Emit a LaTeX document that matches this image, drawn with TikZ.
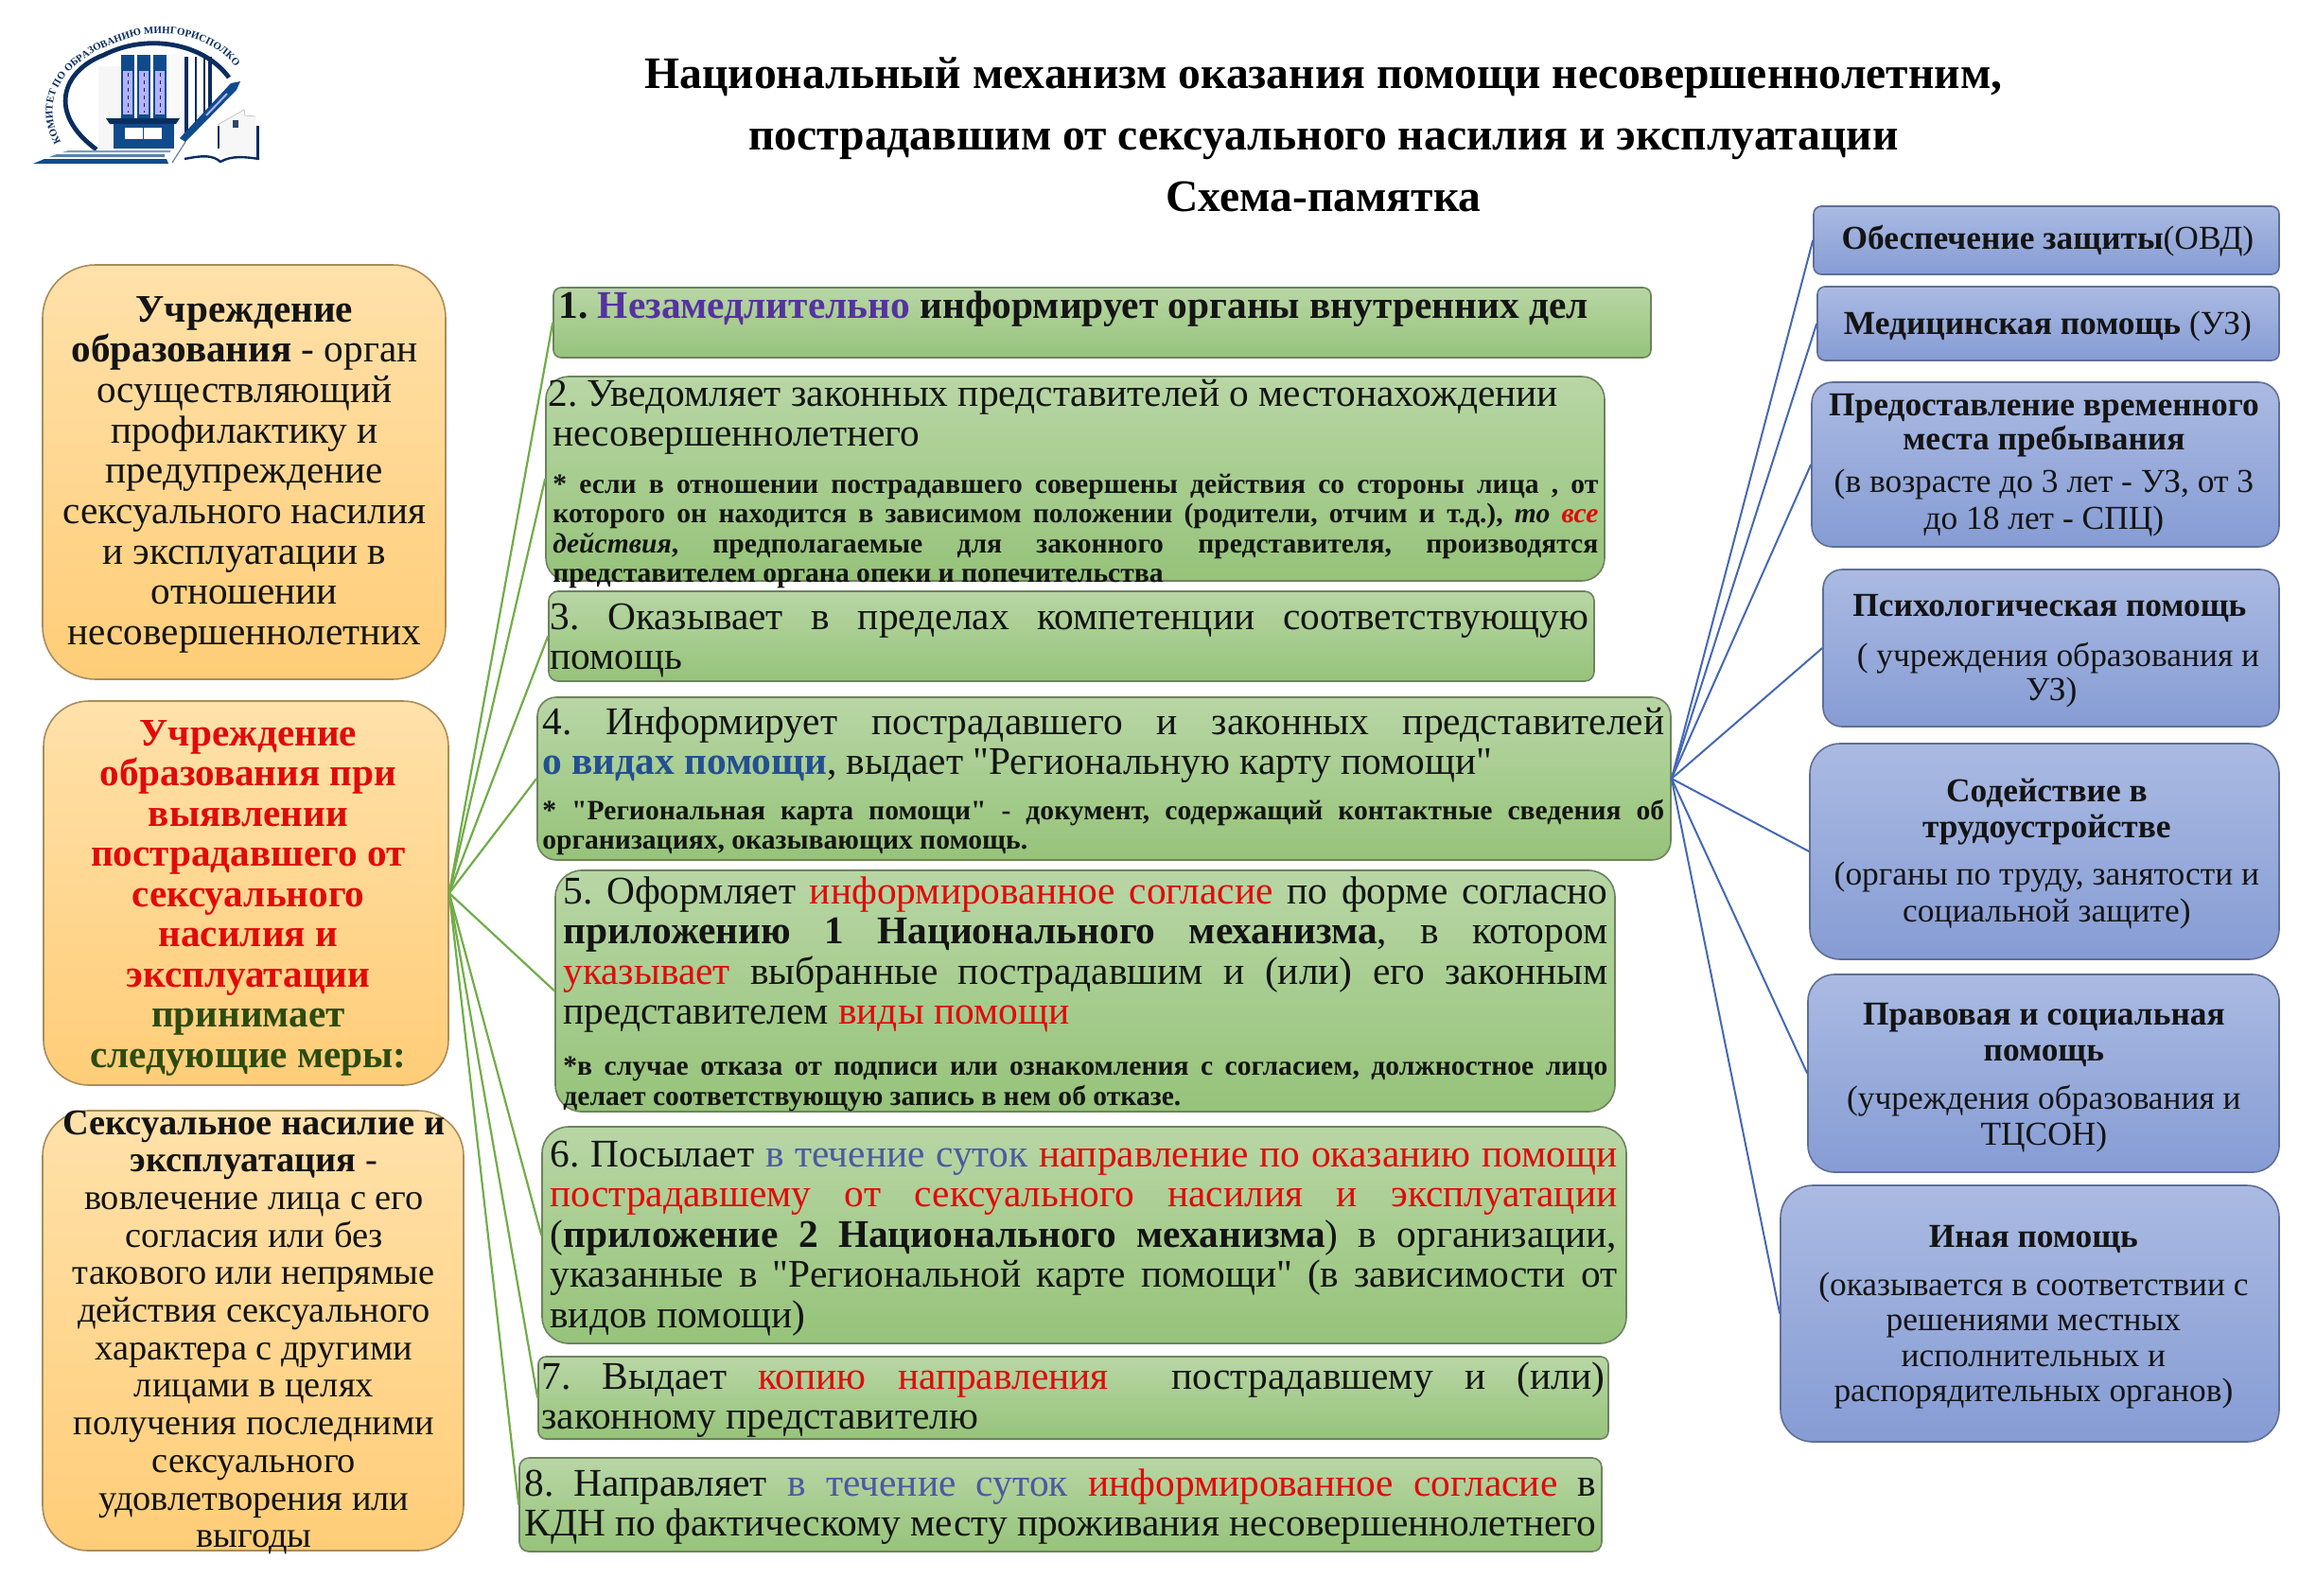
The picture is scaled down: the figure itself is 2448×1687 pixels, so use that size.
\documentclass[tikz,border=0pt]{standalone}
\usepackage{fontspec}
\setmainfont{Liberation Serif}
\newfontfamily\LSq{Liberation Serif}
\usetikzlibrary{decorations.text}
\AtBeginDocument{\frenchspacing}
\definecolor{rd}{RGB}{225,10,10}
\definecolor{pu}{RGB}{85,50,160}
\definecolor{bl}{RGB}{35,80,145}
\definecolor{tch}{RGB}{75,90,160}
\definecolor{dg}{RGB}{45,75,15}
\definecolor{lineg}{RGB}{112,173,71}
\definecolor{lineb}{RGB}{68,104,180}
\definecolor{logob}{RGB}{15,75,140}
\definecolor{logod}{RGB}{10,45,95}
\definecolor{gtop}{RGB}{184,214,165}
\definecolor{gbot}{RGB}{150,195,122}
\definecolor{otop}{RGB}{255,225,170}
\definecolor{obot}{RGB}{255,205,120}
\definecolor{utop}{RGB}{170,186,226}
\definecolor{ubot}{RGB}{134,156,212}
\definecolor{gedge}{RGB}{110,130,95}
\definecolor{oedge}{RGB}{170,140,90}
\definecolor{uedge}{RGB}{95,110,150}
\tikzset{
  gbox/.style={draw=gedge,line width=0.8pt,top color=gtop,bottom color=gbot,inner sep=0pt},
  obox/.style={draw=oedge,line width=0.8pt,top color=otop,bottom color=obot,inner sep=0pt},
  ubox/.style={draw=uedge,line width=0.8pt,top color=utop,bottom color=ubot,inner sep=0pt},
  txt/.style={anchor=base west,inner sep=0pt,text=black!92},
  gline/.style={draw=lineg,line width=1.1pt},
  uline/.style={draw=lineb,line width=1pt},
}
% box: name, style+radius, x1,y1,x2,y2 (reference pixels)
\newcommand{\bx}[6]{\node[#2,minimum width={(#5-#3)*0.5pt},minimum height={(#6-#4)*0.5pt}] (#1) at ({(#3+#5)/2},{(#4+#6)/2}) {};}
% text block: name, x, first baseline y, width in pt, content
\newcommand{\tx}[5]{\node[txt] (#1) at (#2,#3) {\vtop{\hsize=#4pt\relax #5}};}
\newcommand{\JL}[1]{\hbox to \hsize{#1}}
\newcommand{\JLi}[1]{\hbox to \hsize{\hskip 2.5pt #1}}
\newcommand{\PL}[1]{\hbox{#1}}
\newcommand{\CL}[1]{\hbox to \hsize{\hss #1\hss}}
\newcommand{\Rd}[1]{\textcolor{rd}{#1}}
\newcommand{\Tc}[1]{\textcolor{tch}{#1}}
\newcommand{\qq}{{\LSq "}}
\newcommand{\fmain}{\fontsize{20.7}{21.3}\selectfont}
\newcommand{\fnote}{\fontsize{14.8}{15.6}\selectfont\bfseries}
\newcommand{\ftitle}{\fontsize{23.8}{25}\selectfont\bfseries}
\newcommand{\fr}{\fontsize{17.7}{18}\selectfont}
\begin{document}
\begin{tikzpicture}[x=0.5pt,y=-0.5pt]
\useasboundingbox (0,0) rectangle (2448,1687);
\fill[white] (0,0) rectangle (2448,1687);

% ---------- logo
\fill[gray!7] (104,70) rectangle (128,158);
\fill[gray!5] (175,57) -- (193,57) -- (193,143) -- (175,143) -- cycle;
\draw[logod,line width=2.4pt] (102,158) .. controls (50,120) and (65,75) .. (110,58) .. controls (155,35) and (215,45) .. (242,82);
\foreach \xa in {128,145,162}{
  \fill[logob] (\xa,58) rectangle ++(14,68);
  \fill[white!70!blue] ({\xa+2},75) rectangle ++(10,46);
  \draw[logod,line width=0.3pt,dash pattern=on 2pt off 2pt] ({\xa+7},77) -- ++(0,42);
}
\fill[logod] (112,125) -- (190,125) -- (186,131) -- (116,131) -- cycle;
\fill[logob] (120,131) rectangle (184,157);
\fill[white] (132,135) rectangle (171,147);
\draw[logob,line width=0.5pt] (151,135) -- (151,147);
\foreach \xb/\wb in {197/2.2,207/1.2,216/1,222/2}{\draw[logod,line width=\wb pt] (\xb,60) -- (\xb,{150-(\xb-197)*1.4});}
\fill[logob] (35,173) -- (178,173) -- (176,168) -- (47,168) -- cycle;
\fill[logob!70!white] (52,166) -- (174,166) -- (174,163) -- (60,163) -- cycle;
\fill[logob!55!white] (66,161) -- (180,161) -- (180,159) -- (72,159) -- cycle;
\fill[white] (184,172) -- (180,170) -- (243,88) -- (252,92) -- cycle;
\fill[logob] (196,150) -- (190,146) -- (244,88) -- (254,86) -- (250,95) -- cycle;
\draw[logod!60!white,line width=0.6pt] (182,172) -- (196,150);
\draw[white!70!blue,line width=1pt] (218,122) -- (240,99);
\fill[gray!6] (230,132) -- (258,116) -- (259,122) -- (270,123) -- (272,165) -- (232,165) -- cycle;
\draw[gray!55,line width=0.3pt] (230,132) -- (258,116) -- (259,122) -- (270,123);
\draw[logod,line width=0.7pt] (231,133) -- (231,157);
\fill[logod!70!gray] (246,127) rectangle (252,135);
\fill[logod] (271,133) rectangle (274,169);
\draw[logod,line width=1.2pt] (195,168) .. controls (215,164) and (225,164) .. (233,171) .. controls (245,164) and (260,166) .. (274,168);
\path[decorate,decoration={text along path,raise=0.5pt,text align=center,
  text={|\fontsize{5.4}{5.4}\selectfont\bfseries\color{logod}|КОМИТЕТ ПО ОБРАЗОВАНИЮ МИНГОРИСПОЛКОМА}}]
  (60,138) .. controls (42,85) and (95,50) .. (150,38) .. controls (190,32) and (230,45) .. (251,75);

% ---------- title
\node[inner sep=0pt,anchor=base] (title1) at (1399,93.5) {\ftitle Национальный механизм оказания помощи несовершеннолетним,};
\node[inner sep=0pt,anchor=base] (title2) at (1399,158.5) {\ftitle пострадавшим от сексуального насилия и эксплуатации};
\node[inner sep=0pt,anchor=base] (title3) at (1399,223.5) {\ftitle Схема-памятка};

% ---------- boxes
\bx{L1}{obox,rounded corners=28pt}{45}{280}{471}{718}
\bx{L2}{obox,rounded corners=24pt}{46}{741}{474}{1147}
\bx{L3}{obox,rounded corners=24pt}{45}{1174}{490}{1639}
\bx{B1}{gbox,rounded corners=4pt}{585}{304}{1745}{378}
\bx{B2}{gbox,rounded corners=12pt}{577}{398}{1696}{614}
\bx{B3}{gbox,rounded corners=5pt}{580}{625}{1685}{720}
\bx{B4}{gbox,rounded corners=10pt}{568}{737}{1766}{909}
\bx{B5}{gbox,rounded corners=14pt}{587}{920}{1707}{1175}
\bx{B6}{gbox,rounded corners=14pt}{573}{1191}{1719}{1420}
\bx{B7}{gbox,rounded corners=4pt}{569}{1434}{1700}{1521}
\bx{B8}{gbox,rounded corners=5pt}{549}{1541}{1693}{1640}
\bx{R1}{ubox,rounded corners=4pt}{1917}{218}{2409}{290}
\bx{R2}{ubox,rounded corners=4pt}{1921}{303}{2409}{381}
\bx{R3}{ubox,rounded corners=11pt}{1915}{404}{2409}{578}
\bx{R4}{ubox,rounded corners=10pt}{1927}{602}{2409}{768}
\bx{R5}{ubox,rounded corners=16pt}{1913}{786}{2409}{1014}
\bx{R6}{ubox,rounded corners=14pt}{1911}{1030}{2409}{1239}
\bx{R7}{ubox,rounded corners=17pt}{1882}{1253}{2409}{1524}

% ---------- connectors
\foreach \b in {B1,B2,B3,B4,B5,B6,B7,B8}{\draw[gline] (L2.east) -- (\b.west);}
\foreach \r in {R1,R2,R3,R4,R5,R6,R7}{\draw[uline] (B4.east) -- (\r.west);}

% ---------- left texts
\tx{tL1}{45}{340}{213}{\fontsize{20.6}{21.35}\selectfont
 \CL{\bfseries Учреждение}
 \CL{\textbf{образования} - орган}
 \CL{осуществляющий}
 \CL{профилактику и}
 \CL{предупреждение}
 \CL{сексуального насилия}
 \CL{и эксплуатации в}
 \CL{отношении}
 \CL{несовершеннолетних}}
\tx{tL2}{46}{788}{216}{\fontsize{20.6}{21.25}\selectfont\bfseries
 \CL{\Rd{Учреждение}}
 \CL{\Rd{образования при}}
 \CL{\Rd{выявлении}}
 \CL{\Rd{пострадавшего от}}
 \CL{\Rd{сексуального}}
 \CL{\Rd{насилия и}}
 \CL{\Rd{эксплуатации}}
 \CL{\textcolor{dg}{принимает}}
 \CL{\textcolor{dg}{следующие меры:}}}
\tx{tL3}{45}{1199}{223}{\fontsize{19.2}{19.85}\selectfont
 \CL{\bfseries Сексуальное насилие и}
 \CL{\textbf{эксплуатация} -}
 \CL{вовлечение лица с его}
 \CL{согласия или без}
 \CL{такового или непрямые}
 \CL{действия сексуального}
 \CL{характера с другими}
 \CL{лицами в целях}
 \CL{получения последними}
 \CL{сексуального}
 \CL{удовлетворения или}
 \CL{выгоды}}

% ---------- middle texts
\tx{t1}{590}{336}{570}{\fmain\bfseries
 \PL{1. \textcolor{pu}{Незамедлительно} информирует органы внутренних дел}}
\tx{t2}{579}{429}{555}{\fmain
 \PL{2. Уведомляет законных представителей о местонахождении}
 \PL{\hskip 2.5pt несовершеннолетнего}
 \vskip 9.4pt
 \fnote
 \JLi{* если в отношении пострадавшего совершены действия со стороны лица , от}
 \JLi{которого он находится в зависимом положении (родители, отчим и т.д.), \textit{то \Rd{все}}}
 \JLi{\textit{действия}, предполагаемые для законного представителя, производятся}
 \PL{\hskip 2.5pt представителем органа опеки и попечительства}}
\tx{t3}{581}{665}{549}{\fmain
 \JL{3. Оказывает в пределах компетенции соответствующую}
 \PL{помощь}}
\tx{t4}{573}{776}{593}{\fmain
 \JL{4. Информирует пострадавшего и законных представителей}
 \PL{\textbf{\textcolor{bl}{о видах помощи}}, выдает \qq Региональную карту помощи\qq}
 \vskip 8.4pt
 \fnote
 \JL{* \qq Региональная карта помощи\qq\ - документ, содержащий контактные сведения об}
 \PL{организациях, оказывающих помощь.}}
\tx{t5}{595}{955}{552}{\fmain
 \JL{5. Оформляет \Rd{информированное согласие} по форме согласно}
 \JL{\textbf{приложению 1 Национального механизма}, в котором}
 \JL{\Rd{указывает} выбранные пострадавшим и (или) его законным}
 \PL{представителем \Rd{виды помощи}}
 \vskip 11.4pt
 \fnote
 \JL{*в случае отказа от подписи или ознакомления с согласием, должностное лицо}
 \PL{делает соответствующую запись в нем об отказе.}}
\tx{t6}{581}{1233}{564}{\fmain
 \JL{6. Посылает \Tc{в течение суток} \Rd{направление по оказанию помощи}}
 \JL{\Rd{пострадавшему от сексуального насилия и эксплуатации}}
 \JL{(\textbf{приложение 2 Национального механизма}) в организации,}
 \JL{указанные в \qq Региональной карте помощи\qq\ (в зависимости от}
 \PL{видов помощи)}}
\tx{t7}{572}{1468}{562}{\fmain
 \JL{7. Выдает \Rd{копию направления}\ \ пострадавшему и (или)}
 \PL{законному представителю}}
\tx{t8}{554}{1581}{566.5}{\fmain
 \JL{8. Направляет \Tc{в течение суток} \Rd{информированное согласие} в}
 \JL{КДН по фактическому месту проживания несовершеннолетнего}}

% ---------- right texts
\tx{tR1}{1914}{263}{250}{\fr\CL{\textbf{Обеспечение защиты}(ОВД)}}
\tx{tR2}{1914}{353}{250}{\fr\CL{\textbf{Медицинская помощь} (УЗ)}}
\tx{tR3}{1910}{439}{250}{\fr
 \CL{\bfseries Предоставление временного}
 \CL{\bfseries места пребывания}
 \vskip 3pt\fontsize{17.7}{19.5}\selectfont
 \CL{(в возрасте до 3 лет - УЗ, от 3}
 \CL{до 18 лет - СПЦ)}}
\tx{tR4a}{1916}{651}{250}{\fr\CL{\bfseries Психологическая помощь}}
\tx{tR4b}{1925}{704}{250}{\fr\CL{( учреждения образования и}}
\tx{tR4c}{1918}{740}{250}{\fr\CL{УЗ)}}
\tx{tR5}{1913}{847}{250}{\fontsize{17.7}{19.4}\selectfont
 \CL{\bfseries Содействие в}
 \CL{\bfseries трудоустройстве}
 \vskip 5.5pt
 \CL{(органы по труду, занятости и}
 \CL{социальной защите)}}
\tx{tR6}{1910}{1083}{250}{\fontsize{17.7}{19}\selectfont
 \CL{\bfseries Правовая и социальная}
 \CL{\bfseries помощь}
 \vskip 6.5pt
 \CL{(учреждения образования и}
 \CL{ТЦСОН)}}
\tx{tR7}{1899}{1318}{250}{\fontsize{17.7}{18.7}\selectfont
 \CL{\bfseries Иная помощь}
 \vskip 7pt
 \CL{(оказывается в соответствии с}
 \CL{решениями местных}
 \CL{исполнительных и}
 \CL{распорядительных органов)}}
\end{tikzpicture}
\end{document}
